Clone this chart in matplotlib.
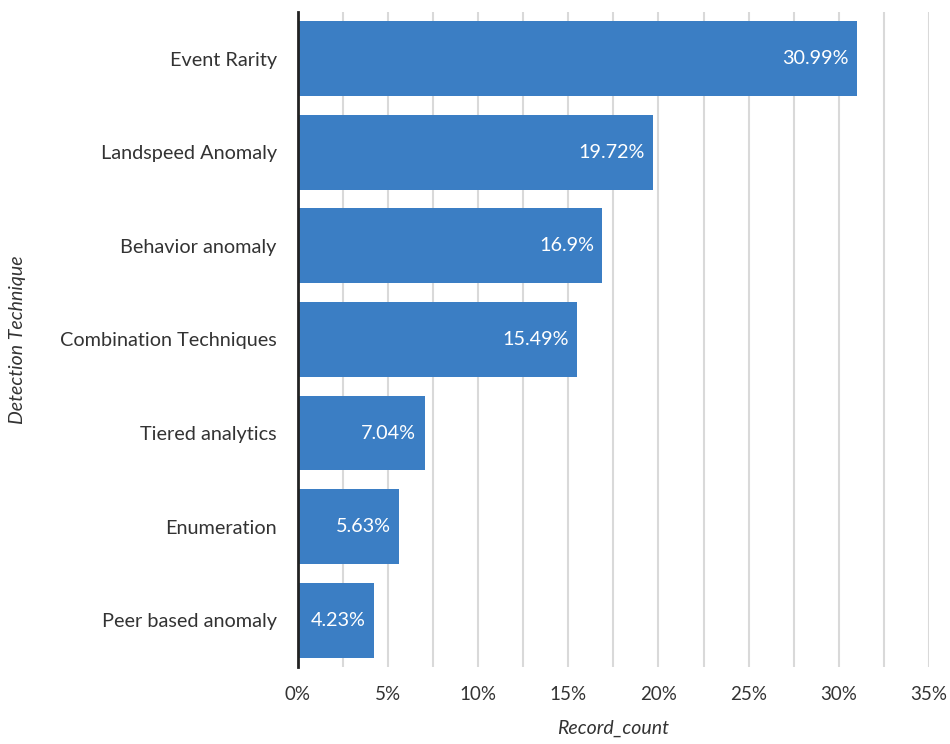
import matplotlib.pyplot as plt
from matplotlib.ticker import MultipleLocator, FuncFormatter

techniques = ["Event Rarity", "Landspeed Anomaly", "Behavior anomaly",
              "Combination Techniques", "Tiered analytics", "Enumeration",
              "Peer based anomaly"]
shares = [30.99, 19.72, 16.9, 15.49, 7.04, 5.63, 4.23]
share_labels = ["30.99%", "19.72%", "16.9%", "15.49%", "7.04%", "5.63%", "4.23%"]

plt.rcParams['font.family'] = ['Lato', 'DejaVu Sans']

fig = plt.figure(figsize=(9.5, 7.44), dpi=100)
ax = fig.add_axes([0.3132, 0.1035, 0.6648, 0.8805])

ypos = list(range(len(techniques)))
ax.barh(ypos, shares, height=0.8, color="#3b7ec4", zorder=3)

for y, v, lab in zip(ypos, shares, share_labels):
    ax.annotate(lab, (v, y), xytext=(-6, 0), textcoords="offset points",
                ha="right", va="center", color="white", fontsize=14.2, zorder=4)

ax.set_xlim(0, 35)
ax.set_ylim(len(techniques) - 0.5, -0.5)
ax.set_yticks(ypos)
ax.set_yticklabels(techniques)
ax.xaxis.set_major_locator(MultipleLocator(5))
ax.xaxis.set_minor_locator(MultipleLocator(2.5))
ax.xaxis.set_major_formatter(FuncFormatter(lambda v, p: f"{v:.0f}%"))
ax.grid(axis="x", which="both", color="#d9d9d9", linewidth=1.5, zorder=0)

ax.tick_params(axis="both", which="both", length=0, labelcolor="#333333")
ax.tick_params(axis="y", pad=15, labelsize=14.3)
ax.tick_params(axis="x", pad=14, labelsize=13.5)

for side in ["top", "right", "bottom"]:
    ax.spines[side].set_visible(False)
ax.spines["left"].set_color("#222222")
ax.spines["left"].set_linewidth(2)
ax.spines["left"].set_zorder(5)

ax.set_xlabel("Record_count", fontsize=14, style="italic", color="#333333",
              labelpad=12)
ax.set_ylabel("Detection Technique", fontsize=14, style="italic",
              color="#333333")
ax.yaxis.set_label_coords(-0.43, 0.5)

fig.savefig("out.png", dpi=100)
